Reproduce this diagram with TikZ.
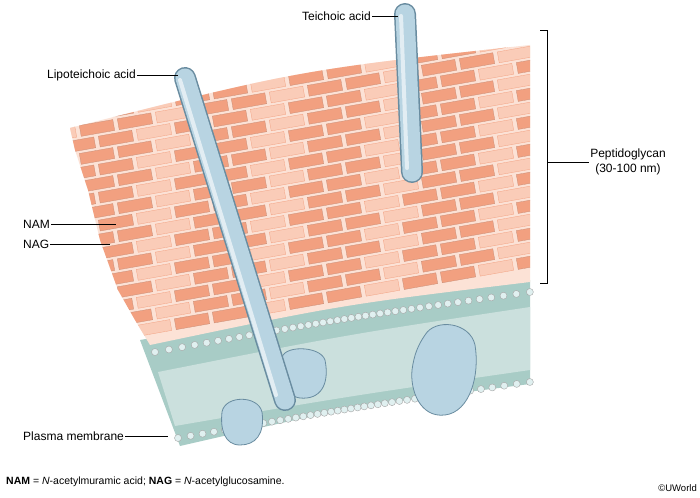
\documentclass[tikz,border=0pt]{standalone}
\usepackage{fontspec}
\setmainfont{Liberation Sans}
\definecolor{rodfill}{RGB}{184,212,226}
\definecolor{rodline}{RGB}{105,140,160}
\definecolor{brickdark}{RGB}{242,160,128}
\definecolor{bricklight}{RGB}{250,204,184}
\definecolor{mortar}{RGB}{252,226,214}
\definecolor{memb}{RGB}{168,204,198}
\begin{document}
\begin{tikzpicture}[x=1pt,y=-1pt,
  lbl/.style={font=\fontsize{12}{14.5}\selectfont,inner sep=1pt},
  bead/.style={circle,draw=black!35,fill=white!88!teal,inner sep=0pt,minimum size=7pt,line width=0.4pt},
  brickA/.style={rectangle,fill=brickdark,draw=brickdark!80!black!90,line width=0.3pt,minimum width=34pt,minimum height=11pt,inner sep=0pt,rotate=10},
  brickB/.style={brickA,fill=bricklight,draw=brickdark},
  prot/.style={fill=rodfill,draw=rodline,line width=0.8pt},
  rodout/.style={line width=22pt,line cap=round,draw=rodline},
  rodin/.style={line width=19pt,line cap=round,draw=rodfill},
  rodhi/.style={line width=4pt,line cap=round,draw=white,opacity=0.6}]
\useasboundingbox (0,0) rectangle (700,497);
\fill[white] (0,0) rectangle (700,497);
% membrane
\fill[memb] (140,340) .. controls (340,305) .. (530,280) -- (530,384) .. controls (350,407) .. (180,446) -- cycle;
\fill[memb!60!white] (158,372) .. controls (345,335) .. (530,307) -- (530,370) .. controls (350,396) .. (175,426) -- cycle;
\foreach \t in {0,0.025,...,1.0}{
  \path (155,352) .. controls (345,318) .. (530,292) node[pos=\t,bead]{};
  \path (178,438) .. controls (350,408) .. (530,382) node[pos=\t,bead]{};
}
% peptidoglycan
\begin{scope}
\clip (70,128) .. controls (300,70) .. (530,45) -- (530,282) .. controls (340,305) .. (150,345) -- (135,320) -- (118,290) -- (100,240) -- (88,190) -- (75,150) -- cycle;
\fill[mortar] (0,0) rectangle (700,497);
\foreach \r in {0,...,22}{
  \foreach \c in {0,...,14}{
    \pgfmathsetmacro{\xx}{40+\c*38+mod(\r,2)*19}
    \pgfmathsetmacro{\yy}{40+\r*14-0.176*(\xx-40)}
    \pgfmathtruncatemacro{\k}{mod(\r*3+\c*7,3)}
    \ifnum\k=0 \node[brickB] at (\xx,\yy) {}; \else \node[brickA] at (\xx,\yy) {}; \fi
  }
}
\end{scope}
% proteins
\draw[prot] (282,360) .. controls (280,345) and (320,345) .. (325,360) .. controls (330,385) and (320,400) .. (300,398) .. controls (285,396) and (284,380) .. (282,360) -- cycle;
\draw[prot] (222,412) .. controls (225,395) and (258,395) .. (262,412) .. controls (265,435) and (255,445) .. (240,445) .. controls (225,445) and (220,430) .. (222,412) -- cycle;
\draw[prot] (425,335) .. controls (435,318) and (470,322) .. (475,345) .. controls (480,375) and (470,412) .. (445,415) .. controls (420,418) and (410,390) .. (412,370) .. controls (414,355) and (418,345) .. (425,335) -- cycle;
% rods
\draw[rodout] (185,78) -- (285,400);
\draw[rodin] (185,78) -- (285,400);
\draw[rodhi] (180,80) -- (276,395);
\draw[rodout] (405,14) -- (412,172);
\draw[rodin] (405,14) -- (412,172);
\draw[rodhi] (401,16) -- (407,168);
% labels
\node[lbl,anchor=east] (ta) at (372,16) {Teichoic acid};
\coordinate (taE) at (398,16);
\draw (ta.east) -- (taE);
\node[lbl,anchor=east] (la) at (137,75) {Lipoteichoic acid};
\coordinate (laE) at (178,75);
\draw (la.east) -- (laE);
\node[lbl,anchor=west] (nam) at (22,224) {NAM};
\coordinate (namE) at (116,224);
\draw (nam.east) -- (namE);
\node[lbl,anchor=west] (nag) at (22,244) {NAG};
\coordinate (nagE) at (110,244);
\draw (nag.east) -- (nagE);
\node[lbl,anchor=west] (pm) at (22,436) {Plasma membrane};
\coordinate (pmE) at (168,436);
\draw (pm.east) -- (pmE);
\node[lbl,align=center] (pg) at (628,162) {Peptidoglycan\\(30-100 nm)};
\coordinate (b1) at (540,30); \coordinate (b2) at (547,30);
\coordinate (b3) at (547,283); \coordinate (b4) at (540,283);
\coordinate (bm) at (547,162);
\draw (b1) -- (b2) -- (b3) -- (b4);
\draw (bm) -- (pg.west);
\node[anchor=west,inner sep=0pt,font=\fontsize{10.5}{12}\selectfont] (fn) at (6,482) {\textbf{NAM} = \textit{N}-acetylmuramic acid; \textbf{NAG} = \textit{N}-acetylglucosamine.};
\node[anchor=east,inner sep=0pt,font=\fontsize{9.5}{11}\selectfont] (uw) at (697,488) {\textcopyright UWorld};
\end{tikzpicture}
\end{document}
